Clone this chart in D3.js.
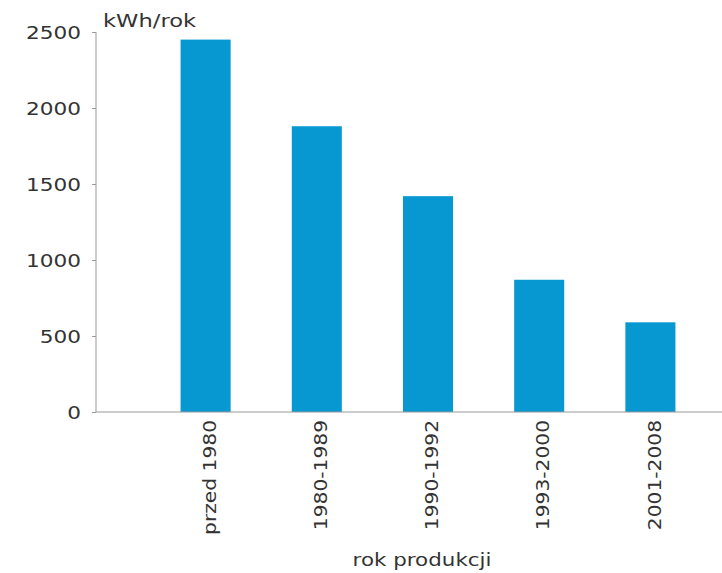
<!DOCTYPE html>
<html><head><meta charset="utf-8">
<script src="https://cdn.jsdelivr.net/npm/d3@7"></script>
<style>body{margin:0;background:#fff}svg{display:block}text{font-family:"DejaVu Sans",sans-serif;fill:#333}</style>
</head><body>
<script>
const categories = ["przed 1980","1980-1989","1990-1992","1993-2000","2001-2008"];
const values = [2450, 1880, 1420, 870, 590];
const yTicks = [0,500,1000,1500,2000,2500];
const yUnit = "kWh/rok";
const xTitle = "rok produkcji";

const W=722,H=573;
const svg=d3.select("body").append("svg").attr("width",W).attr("height",H);
const y=d3.scaleLinear().domain([0,2500]).range([412,32]);
const x=d3.scaleBand().domain(categories).range([150,706]).paddingInner(0.55).paddingOuter(0.275);

svg.selectAll("rect.bar").data(values).enter().append("rect")
  .attr("x",(d,i)=>x(categories[i])).attr("width",x.bandwidth())
  .attr("y",d=>y(d)).attr("height",d=>y(0)-y(d)).attr("fill","#0797d1");

// y axis
const ya=svg.append("g").attr("transform","translate(96,0)")
  .call(d3.axisLeft(y).tickValues(yTicks).tickSize(4).tickFormat(d3.format("d")));
ya.select(".domain").attr("stroke","#999").attr("d","M0,"+y(2500)+"V"+y(0));
ya.selectAll(".tick line").attr("stroke","#999");
ya.selectAll(".tick text").style("font-size","18px").attr("fill","#333")
  .attr("x",0).attr("dy","0.38em").attr("text-anchor","end")
  .attr("transform","translate(-15,0) scale(1.2,1)");

// x axis
const xa=svg.append("g").attr("transform","translate(0,"+y(0)+")")
  .call(d3.axisBottom(x).tickSize(0).tickPadding(0));
xa.select(".domain").attr("stroke","#999").attr("d","M96,0H722");
xa.selectAll(".tick text").style("font-size","17px").attr("fill","#333")
  .attr("text-anchor","end").attr("dy","0.6em").attr("x",0).attr("y",0)
  .attr("transform","translate(0,8) rotate(-90) scale(1.19,1)");

svg.append("text").attr("transform","translate(103,27) scale(1.33,1)").style("font-size","17px").text(yUnit);
svg.append("text").attr("transform","translate(422,566) scale(1.26,1)").attr("text-anchor","middle").style("font-size","17px").text(xTitle);
</script>
</body></html>
